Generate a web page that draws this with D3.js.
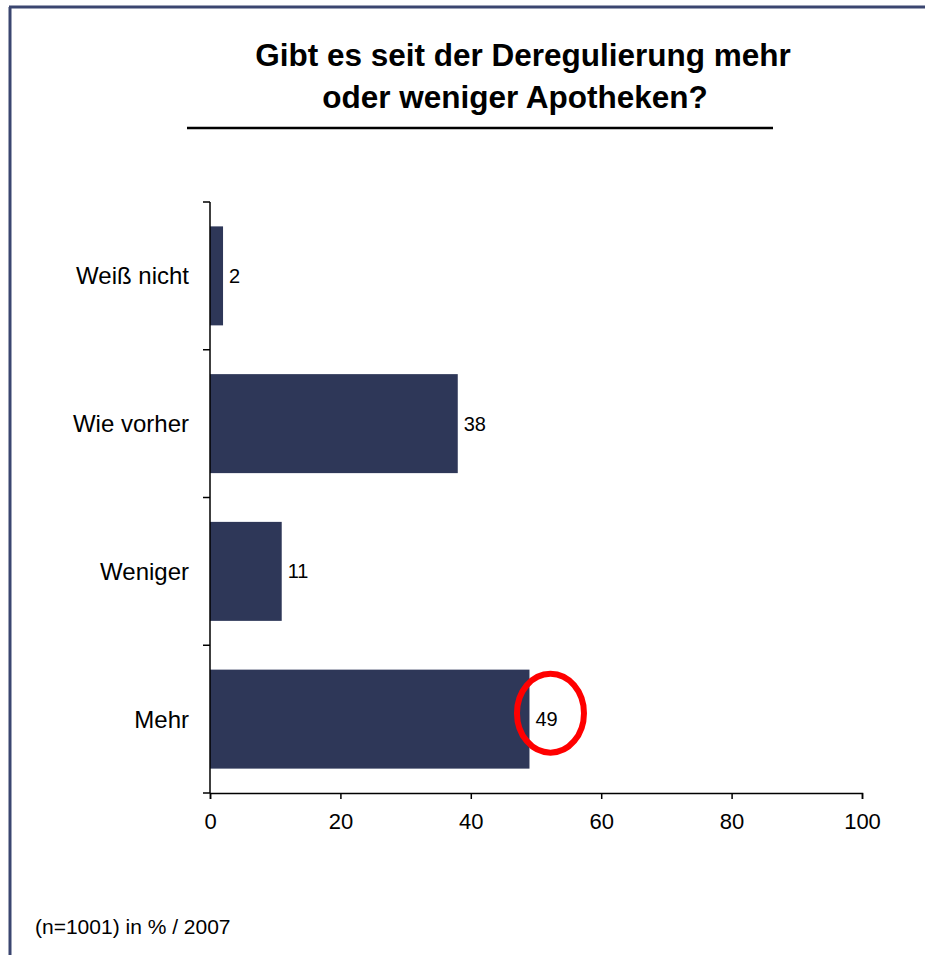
<!DOCTYPE html>
<html>
<head>
<meta charset="utf-8">
<script src="https://cdn.jsdelivr.net/npm/d3@7"></script>
<style>
  body { margin: 0; background: #fff; }
  svg text { font-family: Arial, "Liberation Sans", sans-serif; fill: #000; }
</style>
</head>
<body>
<div id="chart"></div>
<script>
// chart data
var categories = ["Weiß nicht", "Wie vorher", "Weniger", "Mehr"],
  values = [2, 38, 11, 49],
  xTicks = [0, 20, 40, 60, 80, 100],
  titleLines = ["Gibt es seit der Deregulierung mehr", "oder weniger Apotheken?"],
  footnote = "(n=1001) in % / 2007",
  highlight = "Mehr";

var width = 925, height = 955;
var barColor = "#2e3758", frameColor = "#3b4670";

var svg = d3.select("#chart").append("svg")
  .attr("width", width)
  .attr("height", height);

// frame (left and top edges only)
svg.append("line")
  .attr("x1", 10).attr("y1", 7).attr("x2", 10).attr("y2", height)
  .attr("stroke", frameColor).attr("stroke-width", 3);
svg.append("line")
  .attr("x1", 9).attr("y1", 7).attr("x2", width).attr("y2", 7)
  .attr("stroke", frameColor).attr("stroke-width", 3);

// title (second line sits a bit left, as in the original)
svg.append("text")
  .attr("y", 66)
  .attr("text-anchor", "middle")
  .style("font-size", "31.5px")
  .style("font-weight", "bold")
  .selectAll("tspan")
  .data(titleLines)
  .enter().append("tspan")
  .attr("x", function(d, i) { return i === 0 ? 523 : 515; })
  .attr("dy", function(d, i) { return i === 0 ? 0 : 42; })
  .text(function(d) { return d; });

svg.append("line")
  .attr("x1", 187).attr("x2", 773)
  .attr("y1", 128).attr("y2", 128)
  .attr("stroke", "#000").attr("stroke-width", 2.5);

// scales
var xScale = d3.scaleLinear().domain([0, 100]).range([210, 862]);
var yScale = d3.scaleBand()
  .domain(categories)
  .range([202, 793])
  .paddingInner(0.33)
  .paddingOuter(0.165);

// bars
svg.selectAll("rect.bar")
  .data(values)
  .enter().append("rect")
  .attr("class", "bar")
  .attr("x", xScale(0))
  .attr("y", function(d, i) { return yScale(categories[i]); })
  .attr("width", function(d) { return xScale(d) - xScale(0); })
  .attr("height", yScale.bandwidth())
  .attr("fill", barColor);

// value labels
svg.selectAll("text.val")
  .data(values)
  .enter().append("text")
  .attr("class", "val")
  .attr("x", function(d) { return xScale(d) + 6; })
  .attr("y", function(d, i) { return yScale(categories[i]) + yScale.bandwidth() / 2; })
  .attr("dy", "0.35em")
  .style("font-size", "20px")
  .text(function(d) { return d; });

// category axis: line with ticks at band boundaries
var y0 = yScale.range()[0], step = yScale.step();
svg.append("line")
  .attr("x1", xScale(0)).attr("x2", xScale(0))
  .attr("y1", y0).attr("y2", yScale.range()[1])
  .attr("stroke", "#000").attr("stroke-width", 1.5);
svg.selectAll("line.ytick")
  .data(d3.range(categories.length + 1))
  .enter().append("line")
  .attr("class", "ytick")
  .attr("x1", xScale(0) - 7).attr("x2", xScale(0))
  .attr("y1", function(i) { return y0 + i * step; })
  .attr("y2", function(i) { return y0 + i * step; })
  .attr("stroke", "#000").attr("stroke-width", 1.5);
svg.selectAll("text.cat")
  .data(categories)
  .enter().append("text")
  .attr("class", "cat")
  .attr("x", xScale(0) - 21)
  .attr("y", function(d) { return yScale(d) + yScale.bandwidth() / 2; })
  .attr("dy", "0.35em")
  .attr("text-anchor", "end")
  .style("font-size", "24px")
  .text(function(d) { return d; });

// value axis
var xAxis = svg.append("g")
  .attr("transform", "translate(0," + yScale.range()[1] + ")")
  .call(d3.axisBottom(xScale).tickValues(xTicks).tickSize(6).tickPadding(14));
xAxis.select(".domain").attr("stroke", "#000").attr("stroke-width", 1.5);
xAxis.selectAll(".tick line").attr("stroke", "#000").attr("stroke-width", 1.5);
xAxis.selectAll(".tick text")
  .style("font-size", "22px")
  .style("font-family", "Arial, 'Liberation Sans', sans-serif")
  .attr("fill", "#000");

// red ring around the highlighted value
var hi = categories.indexOf(highlight);
svg.append("ellipse")
  .attr("cx", xScale(values[hi]) + 21)
  .attr("cy", yScale(highlight) + yScale.bandwidth() / 2 - 6)
  .attr("rx", 33.5).attr("ry", 39.5)
  .attr("fill", "none")
  .attr("stroke", "#ff0000")
  .attr("stroke-width", 6);

// footnote
svg.append("text")
  .attr("x", 35).attr("y", 934)
  .style("font-size", "21px")
  .text(footnote);
</script>
</body>
</html>
